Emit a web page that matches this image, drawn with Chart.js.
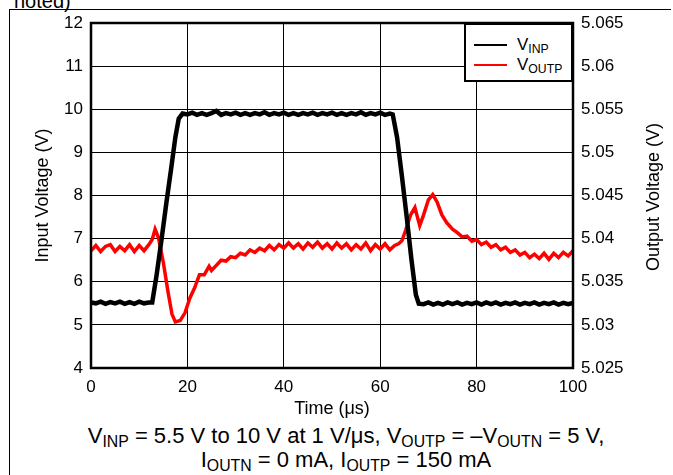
<!DOCTYPE html>
<html><head><meta charset="utf-8">
<script src="https://cdn.jsdelivr.net/npm/chart.js@4"></script>
<style>
html,body{margin:0;padding:0;background:#fff;}
body{width:673px;height:475px;position:relative;overflow:hidden;font-family:"Liberation Sans",Arial,sans-serif;color:#000;}
#frame{position:absolute;left:9px;top:9px;width:661px;height:480px;border-left:1px solid #000;border-top:1px solid #000;}
#noted{position:absolute;left:14px;top:-9px;font-size:20px;line-height:20px;}
#chart{position:absolute;left:0;top:0;}
#legend{position:absolute;left:464px;top:23px;width:109px;height:59px;border:2px solid #000;background:#fff;box-sizing:border-box;}
.lg{position:absolute;left:8px;width:33px;height:2px;}
.lt{position:absolute;left:51px;font-size:17px;line-height:17px;white-space:nowrap;}
.lt sub,#caption sub{font-size:72%;vertical-align:-0.25em;line-height:0;}
#caption{position:absolute;left:0;top:424px;width:692px;text-align:center;font-size:22px;line-height:24px;white-space:nowrap;}
#rtitle{position:absolute;left:553px;top:186px;width:200px;height:22px;line-height:22px;text-align:center;font-size:18px;transform:rotate(-90deg);transform-origin:50% 50%;white-space:nowrap;}
</style></head>
<body>
<div id="noted">noted)</div>
<div id="frame"></div>
<canvas id="chart" width="673" height="420"></canvas>
<div id="rtitle">Output Voltage (V)</div>
<div id="legend">
  <div class="lg" style="top:19px;background:#000"></div>
  <div class="lt" style="top:11px">V<sub>INP</sub></div>
  <div class="lg" style="top:39px;background:#f00"></div>
  <div class="lt" style="top:31px">V<sub>OUTP</sub></div>
</div>
<div id="caption">V<sub>INP</sub> = 5.5 V to 10 V at 1 V/μs, V<sub>OUTP</sub> = –V<sub>OUTN</sub> = 5 V,<br>I<sub>OUTN</sub> = 0 mA, I<sub>OUTP</sub> = 150 mA</div>
<script>
// Time axis (µs)
const xTicks = [0, 20, 40, 60, 80, 100];
const leftTicks = [4, 5, 6, 7, 8, 9, 10, 11, 12];
const rightTicks = [5.025, 5.03, 5.035, 5.04, 5.045, 5.05, 5.055, 5.06, 5.065];

// V_INP (left axis, V)
const tInp = [0,1,2,3,4,5,6,7,8,9,10,11,12,12.7,13.6,14.6,15.6,16.6,17.5,18.2,19,
  20,21,22,23,24,25,26,27,28,29,30,31,32,33,34,35,36,37,38,39,40,41,42,43,44,45,46,47,48,49,50,51,52,53,54,55,56,57,58,59,60,61,62,
  62.6,63.5,64.5,65.5,66.5,67.4,68,
  69,70,71,72,73,74,75,76,77,78,79,80,81,82,83,84,85,86,87,88,89,90,91,92,93,94,95,96,97,98,99,100];
const vInp = [5.52,5.50,5.54,5.49,5.53,5.50,5.54,5.49,5.53,5.49,5.54,5.50,5.52,5.52,6.15,6.95,7.80,8.60,9.35,9.78,9.90,
  9.88,9.92,9.87,9.91,9.87,9.91,9.96,9.87,9.91,9.88,9.92,9.87,9.91,9.87,9.91,9.88,9.93,9.87,9.91,9.88,9.92,9.87,9.91,9.87,9.91,9.88,9.92,9.87,9.91,9.88,9.92,9.87,9.91,9.87,9.91,9.88,9.93,9.87,9.91,9.88,9.92,9.87,9.90,
  9.88,9.35,8.45,7.50,6.50,5.70,5.49,
  5.48,5.52,5.47,5.51,5.47,5.52,5.48,5.52,5.47,5.51,5.48,5.52,5.47,5.52,5.48,5.52,5.47,5.51,5.48,5.52,5.47,5.51,5.48,5.52,5.47,5.51,5.48,5.52,5.47,5.51,5.48,5.51];

// V_OUTP (right axis, V)
const tOutp = [0,1,2,3,4,5,6,7,8,9,10,11,12,12.7,13.3,14,15,16,16.8,17.5,18.5,19.5,20.5,21.5,22.5,23.5,24.5,25,
  26,27,28,29,30,31,32,33,34,35,36,37,38,39,40,41,42,43,44,45,46,47,48,49,50,51,52,53,54,55,56,57,58,59,60,61,62,63,
  63.8,64.5,65.3,66.3,67.2,68.2,69,70,70.9,71.8,72.8,73.8,75,
  76,77,78,79,80,81,82,83,84,85,86,87,88,89,90,91,92,93,94,95,96,97,98,99,100];
const vOutp = [5.0386,5.0392,5.0385,5.0391,5.0393,5.0385,5.0391,5.0386,5.0393,5.0385,5.0392,5.0386,5.0393,5.0399,5.0411,5.0401,5.03725,5.03375,5.03125,5.03035,5.0305,5.0314,5.0331,5.0343,5.0358,5.0358,5.0368,5.0363,
  5.0369,5.0375,5.0374,5.0379,5.0378,5.0383,5.0381,5.0387,5.0384,5.0389,5.0386,5.0392,5.0387,5.0393,5.0389,5.0395,5.0389,5.0394,5.0388,5.0395,5.0390,5.0396,5.0389,5.0394,5.0388,5.0395,5.0389,5.0394,5.0387,5.0393,5.0388,5.0395,5.0386,5.0393,5.0388,5.0394,5.0387,5.0392,
  5.0394,5.03975,5.0410,5.04275,5.0436,5.0415,5.04275,5.0445,5.0451,5.04425,5.04275,5.04185,5.0411,
  5.0407,5.0402,5.0403,5.0397,5.0399,5.0393,5.0396,5.0390,5.0393,5.0387,5.0390,5.0384,5.0387,5.0381,5.0384,5.0378,5.0382,5.0377,5.0383,5.0376,5.0383,5.0378,5.0384,5.0380,5.0386];

const FONT = '"Liberation Sans", Arial, sans-serif';

const frameBox = {
  id: 'frameBox',
  afterDatasetsDraw(chart) {
    const {ctx, chartArea: a} = chart;
    ctx.save();
    ctx.strokeStyle = '#000';
    ctx.lineWidth = 2.5;
    ctx.strokeRect(a.left, a.top, a.right - a.left, a.bottom - a.top);
    ctx.restore();
  }
};

new Chart(document.getElementById('chart'), {
  type: 'line',
  data: {
    datasets: [
      {label: 'VINP', data: tInp.map((t, i) => ({x: t, y: vInp[i]})), borderColor: '#000', borderWidth: 4.5, pointRadius: 0, yAxisID: 'y', tension: 0},
      {label: 'VOUTP', data: tOutp.map((t, i) => ({x: t, y: vOutp[i]})), borderColor: '#ff0000', borderWidth: 3.5, pointRadius: 0, yAxisID: 'y2', tension: 0}
    ]
  },
  options: {
    responsive: false,
    animation: false,
    devicePixelRatio: 1,
    layout: {padding: {top: 23, left: 0, right: 0, bottom: 0}},
    plugins: {legend: {display: false}, tooltip: {enabled: false}},
    scales: {
      x: {
        type: 'linear', min: 0, max: 100,
        afterBuildTicks: s => { s.ticks = xTicks.map(v => ({value: v})); },
        afterFit: s => { s.height = 52; },
        grid: {color: '#000', lineWidth: 1, drawTicks: false},
        border: {display: false},
        ticks: {color: '#000', font: {family: FONT, size: 17}, padding: 9, maxRotation: 0},
        title: {display: true, text: 'Time (μs)', color: '#000', font: {family: FONT, size: 18}, padding: {top: 0, bottom: 0}}
      },
      y: {
        position: 'left', min: 4, max: 12,
        afterBuildTicks: s => { s.ticks = leftTicks.map(v => ({value: v})); },
        afterFit: s => { s.width = 91; },
        grid: {color: '#000', lineWidth: 1, drawTicks: false},
        border: {display: false},
        ticks: {color: '#000', font: {family: FONT, size: 17}, padding: 8},
        title: {display: true, text: 'Input Voltage (V)', color: '#000', font: {family: FONT, size: 18}, padding: {top: 32, bottom: 0}}
      },
      y2: {
        position: 'right', min: 5.025, max: 5.065,
        afterBuildTicks: s => { s.ticks = rightTicks.map(v => ({value: v})); },
        afterFit: s => { s.width = 100; },
        grid: {display: false, drawTicks: false},
        border: {display: false},
        ticks: {color: '#000', font: {family: FONT, size: 17}, padding: 8,
          callback: v => String(Number(v.toFixed(3)))},
        title: {display: false}
      }
    }
  },
  plugins: [frameBox]
});
</script>
</body></html>
